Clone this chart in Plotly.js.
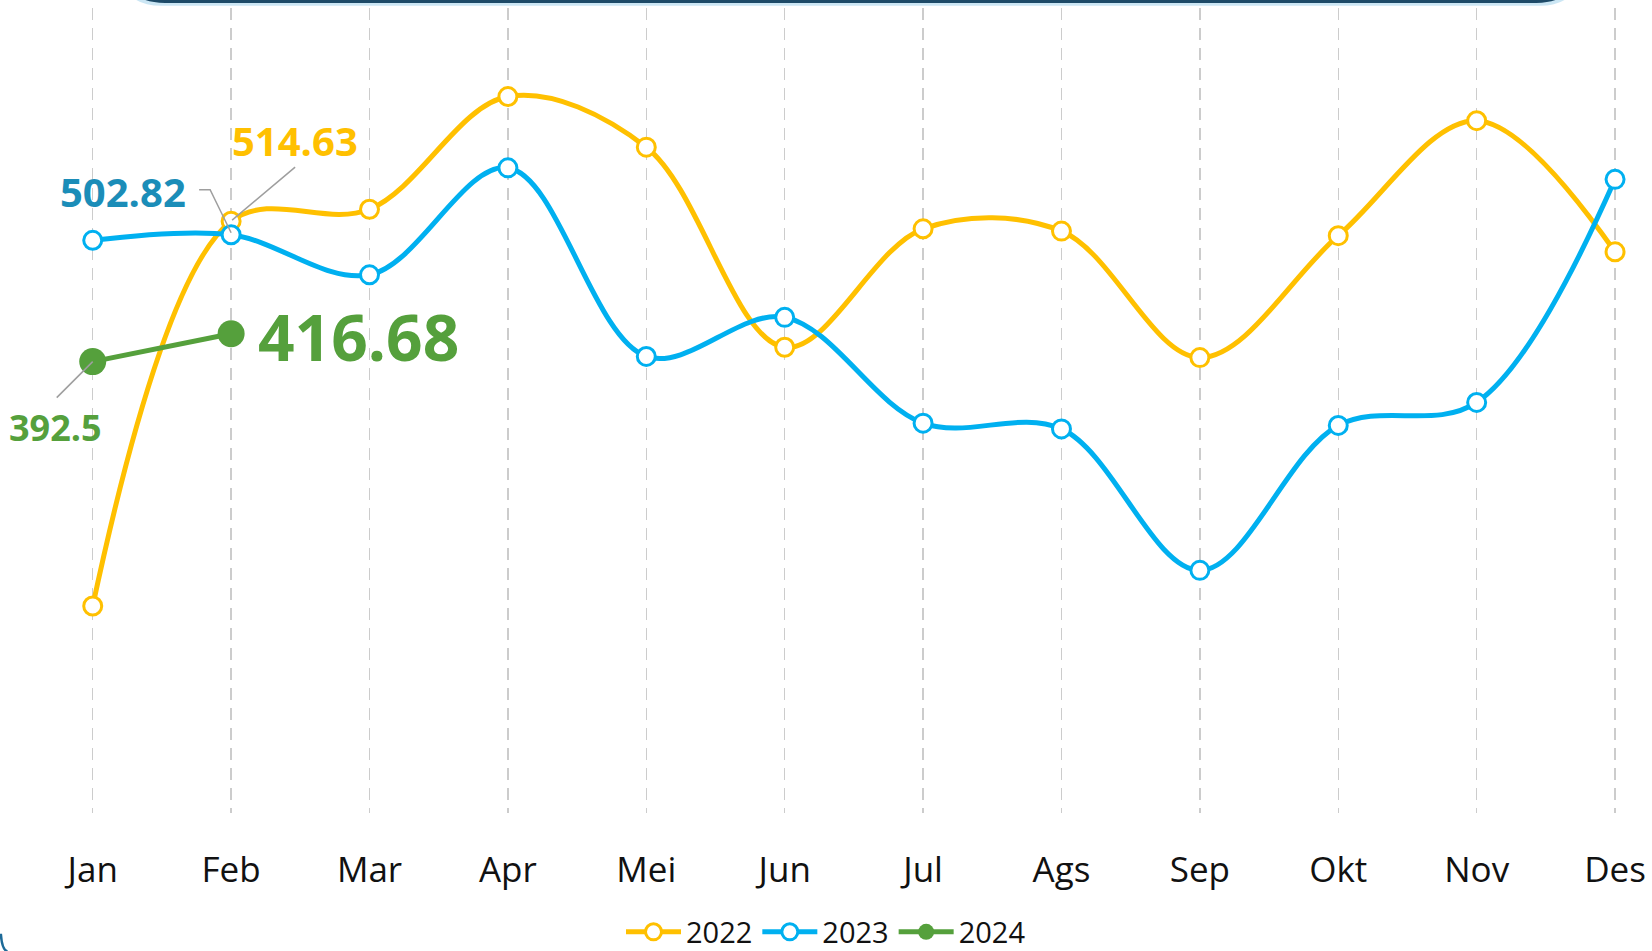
<!DOCTYPE html>
<html>
<head>
<meta charset="utf-8">
<script src="https://cdn.plot.ly/plotly-3.0.1.min.js"></script>
<style>
  html, body { margin: 0; padding: 0; background: #ffffff; }
  #chart { width: 1652px; height: 951px; }
</style>
</head>
<body>
<div id="chart"></div>
<script>
// ---- data ----
var months = ["Jan", "Feb", "Mar", "Apr", "Mei", "Jun", "Jul", "Ags", "Sep", "Okt", "Nov", "Des"];
var series2022 = [180, 514.63, 525, 623, 579, 405, 508, 506, 396, 502, 602, 488];
var series2023 = [498, 502.82, 468, 561, 397, 431, 339, 334, 211, 337, 357, 551];
var months2024 = ["Jan", "Feb"];
var series2024 = [392.5, 416.68];
var seriesNames = ["2022", "2023", "2024"];

var C2022 = "#FFC000", C2023 = "#00B0F0", C2024 = "#55A03C";
var idx = function (m) { return months.indexOf(m); };
var xs = months.map(function (m, i) { return i; });
var xs24 = months2024.map(idx);

var traces = [
  {
    x: xs, y: series2022, name: seriesNames[0], type: "scatter", mode: "lines+markers",
    line: { color: C2022, width: 5, shape: "spline", smoothing: 1.0 },
    marker: { symbol: "circle", size: 18, color: "#ffffff", line: { color: C2022, width: 3 } },
    hoverinfo: "skip"
  },
  {
    x: xs, y: series2023, name: seriesNames[1], type: "scatter", mode: "lines+markers",
    line: { color: C2023, width: 5, shape: "spline", smoothing: 1.0 },
    marker: { symbol: "circle", size: 18, color: "#ffffff", line: { color: C2023, width: 3 } },
    hoverinfo: "skip"
  },
  {
    x: xs24, y: series2024, name: seriesNames[2], type: "scatter", mode: "lines+markers",
    line: { color: C2024, width: 5 },
    marker: { symbol: "circle", size: 27, color: C2024 },
    hoverinfo: "skip"
  }
];

var lblFont = "Open Sans, Noto Sans, sans-serif";
var gray = "#9e9e9e";

var annotations = [
  { x: 1, y: series2023[1], xref: "x", yref: "y", text: "502.82", showarrow: false,
    xshift: -108, yshift: 43, font: { family: lblFont, size: 40, color: "#1B8DB8", weight: "bold" } },
  { x: 1, y: series2022[1], xref: "x", yref: "y", text: "514.63", showarrow: false,
    xshift: 64, yshift: 81, font: { family: lblFont, size: 40, color: C2022, weight: "bold" } },
  { x: xs24[1], y: series2024[1], xref: "x", yref: "y", text: "416.68", showarrow: false,
    xanchor: "left", xshift: 25, yshift: -3, font: { family: lblFont, size: 64, color: C2024, weight: "bold" } },
  { x: xs24[0], y: series2024[0], xref: "x", yref: "y", text: "392.5", showarrow: false,
    xshift: -37, yshift: -66, font: { family: lblFont, size: 36, color: C2024, weight: "bold" } }
];

var shapes = [
  // leader lines (pixel offsets relative to data points)
  { type: "path", xref: "x", yref: "y", xsizemode: "pixel", ysizemode: "pixel",
    xanchor: 1, yanchor: series2023[1], path: "M-32,45 L-21,45 L0,2",
    line: { color: gray, width: 1.5 } },
  { type: "path", xref: "x", yref: "y", xsizemode: "pixel", ysizemode: "pixel",
    xanchor: 1, yanchor: series2022[1], path: "M64,54 L1,1",
    line: { color: gray, width: 1.5 } },
  { type: "path", xref: "x", yref: "y", xsizemode: "pixel", ysizemode: "pixel",
    xanchor: xs24[0], yanchor: series2024[0], path: "M-36,-36 L0,0",
    line: { color: gray, width: 1.5 } },
  // decorative card edge at the top
  { type: "path", xref: "paper", yref: "paper", layer: "above",
    path: "M 0.080,1.0224 Q 0.083,1.0075 0.098,1.0070 L 0.932,1.0070 Q 0.946,1.0075 0.950,1.0224",
    line: { color: "rgba(160,210,235,0.55)", width: 7 } },
  { type: "path", xref: "paper", yref: "paper", layer: "above",
    path: "M 0.082,1.0224 Q 0.085,1.0085 0.100,1.0082 L 0.930,1.0082 Q 0.944,1.0085 0.948,1.0224",
    line: { color: "#1d4a68", width: 3 } },
  // bottom-left frame corner
  { type: "path", xref: "paper", yref: "paper", layer: "above",
    path: "M 0.0005,-0.150 Q 0.0012,-0.170 0.0045,-0.172",
    line: { color: "#1d6a98", width: 2.5 } }
];

var layout = {
  width: 1652, height: 951,
  margin: { l: 0, r: 0, t: 8, b: 138, pad: 0, autoexpand: false },
  paper_bgcolor: "#ffffff", plot_bgcolor: "#ffffff",
  showlegend: true,
  legend: {
    orientation: "h", x: 0.5, xanchor: "center", y: -0.1478, yanchor: "middle",
    font: { family: "Open Sans, Noto Sans, sans-serif", size: 29, color: "#111111" },
    itemwidth: 55, tracegroupgap: 0
  },
  xaxis: {
    type: "linear", automargin: false,
    range: [-0.67, 11.267],
    tickmode: "array", tickvals: xs, ticktext: months,
    showgrid: true, gridcolor: "#cccccc", gridwidth: 1.5, griddash: "12px,8px",
    zeroline: false, showline: false, ticks: "",
    ticklabelstandoff: 33,
    tickfont: { family: "Open Sans, Noto Sans, sans-serif", size: 35, color: "#111111" },
    fixedrange: true
  },
  yaxis: {
    range: [0, 700], automargin: false,
    showgrid: false, zeroline: false, showline: false, showticklabels: false, ticks: "",
    fixedrange: true
  },
  annotations: annotations,
  shapes: shapes,
  hovermode: false
};

Plotly.newPlot("chart", traces, layout, { displayModeBar: false, staticPlot: true });
</script>
</body>
</html>
